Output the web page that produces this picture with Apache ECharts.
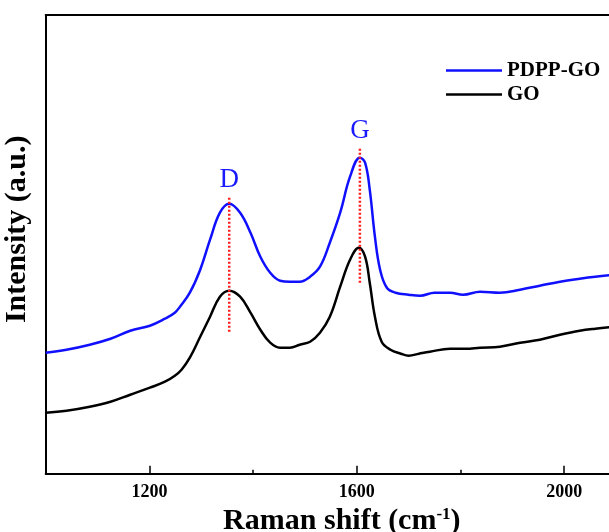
<!DOCTYPE html>
<html>
<head>
<meta charset="utf-8">
<script src="https://cdn.jsdelivr.net/npm/echarts@6/dist/echarts.min.js"></script>
<style>html,body{margin:0;padding:0;background:#fff}#c{width:609px;height:532px}</style>
</head>
<body>
<div id="c"></div>
<script>
// Raman shift (cm-1) and intensity (a.u.)
const pdppGO = [
  [1000,121],[1040,124],[1085,129],[1125,135],[1163,143],[1201,148],[1230,155],[1249,161],[1259,167],
  [1278,181],[1298,204],[1317,234],[1336,261],[1354,270],[1375,261],[1395,241],[1414,217],
  [1433,201],[1452,193],[1471,192],[1490,192],[1510,197],[1529,207],[1548,231],[1568,261],
  [1587,297],[1606,316],[1616,311],[1625,284],[1635,237],[1645,204],[1658,186],[1675,181],
  [1700,179],[1722,178],[1750,181],[1780,181],[1805,179],[1838,182],[1876,181],[1915,184],
  [1953,188],[1992,192],[2030,195],[2060,197],[2100,199]
];
const go = [
  [1000,61],[1040,63],[1085,67],[1125,72],[1163,79],[1201,86],[1230,92],[1249,98],[1262,104],
  [1278,116],[1298,137],[1317,157],[1336,177],[1354,183],[1375,177],[1395,161],[1414,144],
  [1433,131],[1452,126],[1471,126],[1490,129],[1510,132],[1529,141],[1548,157],[1568,187],
  [1587,214],[1604,226],[1616,217],[1625,191],[1635,157],[1648,132],[1665,124],[1685,120],
  [1700,118],[1720,120],[1741,122],[1780,125],[1810,125],[1838,126],[1876,127],[1915,131],
  [1953,134],[1992,139],[2030,143],[2060,145],[2100,147]
];
const dPeak = [[1354,142],[1354,277]];
const gPeak = [[1606,191],[1606,326]];
const peakNames = ['D','G'];
const seriesNames = ['PDPP-GO','GO'];
const tickValues = [1200,1600,2000];
const minorTickValues = [1400,1800];

const serif = 'Liberation Serif';
const chart = echarts.init(document.getElementById('c'));
function peakSeries(pts, name){
  return {
    type:'line', data:[
      {value:pts[0], symbolSize:0},
      {value:pts[1], symbol:'circle', symbolSize:1,
       itemStyle:{color:'rgba(0,0,0,0)'},
       label:{show:true, position:'top', distance:3, formatter:name,
        color:'#1a1aff', fontFamily:serif, fontSize:27}}
    ],
    symbol:'circle', symbolSize:0, showSymbol:true, silent:true, z:5,
    lineStyle:{color:'#ff1a1a', width:2.5, type:[2,2]}
  };
}
chart.setOption({
  animation:false,
  grid:{left:45.7, right:-7, top:15, bottom:58.3, outerBoundsMode:'none', containLabel:false},
  legend:{
    data:[{name:seriesNames[0], icon:'rect'},{name:seriesNames[1], icon:'rect'}],
    orient:'vertical', left:441, top:55, itemWidth:56, itemHeight:2.5,
    itemGap:3,
    textStyle:{fontFamily:serif, fontWeight:'bold', fontSize:21, color:'#000'}
  },
  xAxis:[
    {type:'value', min:1000, max:2100, position:'bottom',
     axisLine:{show:true, lineStyle:{color:'#000', width:2}},
     axisTick:{show:true, inside:true, length:8, lineStyle:{color:'#000', width:1.5}, customValues:tickValues},
     axisLabel:{show:true, customValues:tickValues, margin:10, color:'#000', fontFamily:serif, fontWeight:'bold', fontSize:18,
       formatter:function(v){return String(v);}},
     splitLine:{show:false},
     name:'{a|Raman shift (cm}{s|-1}{a|)}', nameLocation:'middle', nameGap:28,
     nameTextStyle:{padding:[0,0,0,22], rich:{
       a:{fontFamily:serif, fontWeight:'bold', fontSize:30, color:'#000', verticalAlign:'bottom', lineHeight:30},
       s:{fontFamily:serif, fontWeight:'bold', fontSize:17, color:'#000', verticalAlign:'top', lineHeight:30}
     }}
    },
    {type:'value', min:1000, max:2100, position:'bottom',
     axisLine:{show:false},
     axisTick:{show:true, inside:true, length:4, lineStyle:{color:'#000', width:1.5}, customValues:minorTickValues},
     axisLabel:{show:false}, splitLine:{show:false}
    },
    {type:'value', min:1000, max:2100, position:'top',
     axisLine:{show:true, lineStyle:{color:'#000', width:2}},
     axisTick:{show:false}, axisLabel:{show:false}, splitLine:{show:false}
    }
  ],
  yAxis:{
    type:'value', min:0, max:458.7,
    axisLine:{show:true, lineStyle:{color:'#000', width:2}},
    axisTick:{show:false}, axisLabel:{show:false}, splitLine:{show:false},
    name:'Intensity (a.u.)', nameLocation:'middle', nameGap:13, nameRotate:90,
    nameTextStyle:{fontFamily:serif, fontWeight:'bold', fontSize:30, color:'#000', padding:[0,0,0,30]}
  },
  series:[
    {name:seriesNames[0], type:'line', data:pdppGO, smooth:0.4, symbol:'none',
     lineStyle:{color:'#1010ff', width:2.5}, itemStyle:{color:'#1010ff'}},
    {name:seriesNames[1], type:'line', data:go, smooth:0.4, symbol:'none',
     lineStyle:{color:'#000', width:2.5}, itemStyle:{color:'#000'}},
    peakSeries(dPeak, peakNames[0]),
    peakSeries(gPeak, peakNames[1])
  ]
});
</script>
</body>
</html>
